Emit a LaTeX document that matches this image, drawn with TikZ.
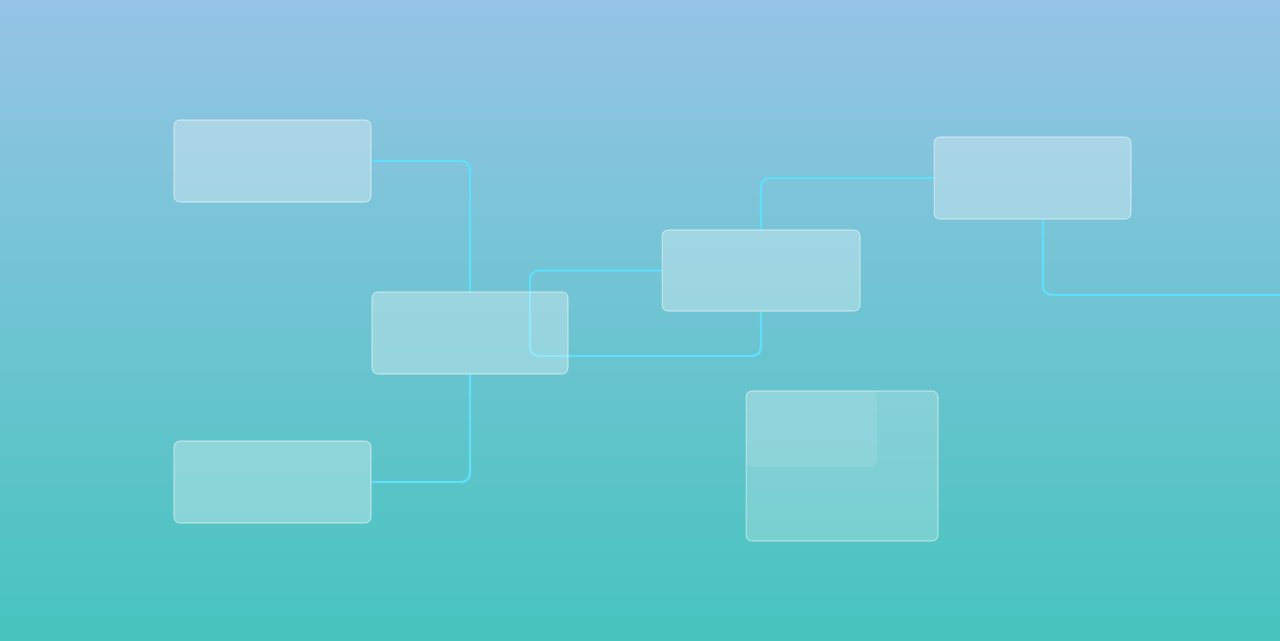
\documentclass[tikz,border=0pt]{standalone}
\definecolor{skytop}{RGB}{150,196,230}
\definecolor{skymid}{RGB}{110,191,214}
\definecolor{skybot}{RGB}{70,196,190}
\definecolor{linkcyan}{RGB}{96,222,250}
\pgfdeclarelayer{back}
\pgfdeclarelayer{links}
\pgfsetlayers{back,links,main}
\tikzset{
  panel/.style={draw=white, draw opacity=0.45, fill=white, fill opacity=0.3,
    rounded corners=3.4pt, line width=0.6pt, inner sep=0pt},
  link/.style={draw=linkcyan, line width=1.3pt, rounded corners=5pt}
}
\begin{document}
\begin{tikzpicture}[x=0.02cm, y=-0.02cm]
  \useasboundingbox (0,0) rectangle (1280,640);
  \begin{pgfonlayer}{back}
    \shade[top color=skytop, middle color=skymid, bottom color=skybot] (0,0) rectangle (1280,640);
  \end{pgfonlayer}
  \node[panel, minimum width=3.94cm, minimum height=1.64cm] at (272.5,161)   (srctop) {};
  \node[panel, minimum width=3.92cm, minimum height=1.64cm] at (470,333)     (hub) {};
  \node[panel, minimum width=3.94cm, minimum height=1.64cm] at (272.5,482)   (srcbot) {};
  \node[panel, minimum width=3.96cm, minimum height=1.62cm] at (761,270.5)   (mid) {};
  \node[panel, minimum width=3.94cm, minimum height=1.64cm] at (1032.5,178)  (upper) {};
  \node[panel, fill opacity=0.22, minimum width=3.84cm, minimum height=3.0cm]  at (842,466) (block) {};
  \node[panel, draw opacity=0, fill opacity=0.1, minimum width=2.62cm, minimum height=1.52cm] at (811.5,429) (blockin) {};
  \coordinate (loopcorner) at (530,356);
  \coordinate (exit) at (1282,295);
  \begin{pgfonlayer}{links}
    \draw[link] (srctop.east) -| (hub.north);
    \draw[link] (srcbot.east) -| (hub.south);
    \draw[link] (mid.west) -| (loopcorner) -| (mid.south);
    \draw[link] (mid.north) |- (upper.west);
    \draw[link] ([xshift=0.21cm]upper.south) |- (exit);
  \end{pgfonlayer}
\end{tikzpicture}
\end{document}
